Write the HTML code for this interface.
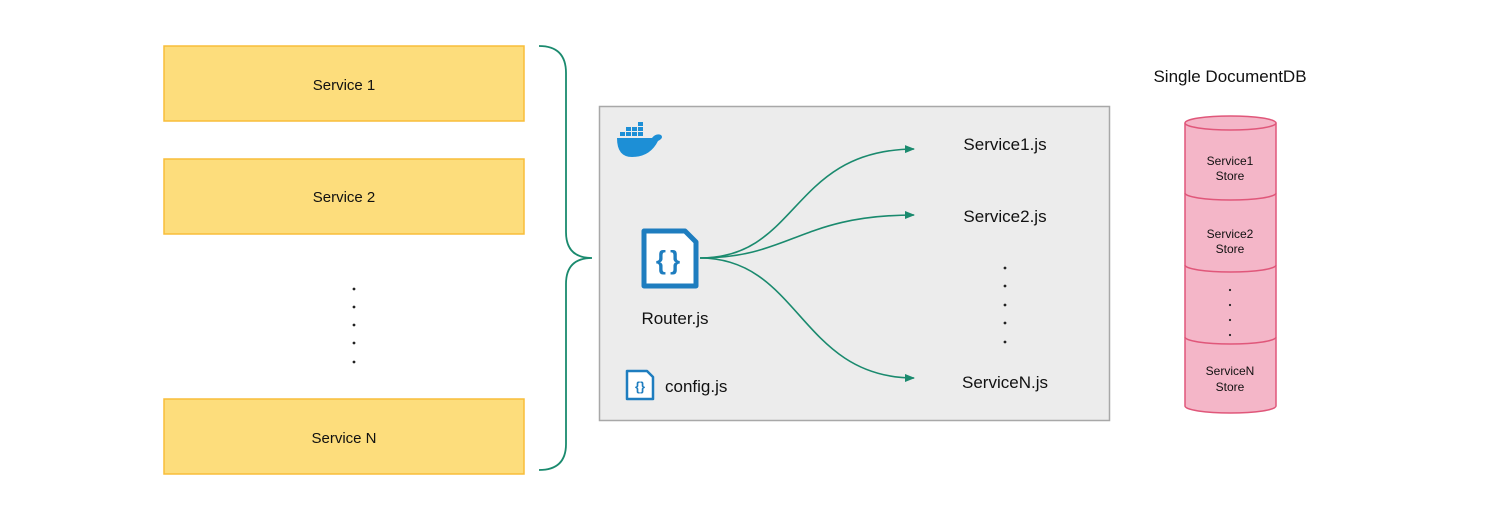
<!DOCTYPE html>
<html><head><meta charset="utf-8"><style>
html,body{margin:0;padding:0;background:#fff}
svg{display:block}
text{font-family:"Liberation Sans",sans-serif;fill:#111}
</style></head><body>
<svg width="1500" height="523" viewBox="0 0 1500 523" xmlns="http://www.w3.org/2000/svg">
<defs><marker id="ah" markerWidth="10" markerHeight="8" refX="9" refY="4" orient="auto" markerUnits="userSpaceOnUse"><path d="M0,0 L10,4 L0,8 z" fill="#1a8a6e"/></marker></defs>
<g fill="#fddd7c" stroke="#f8bd3a" stroke-width="1.5">
<rect x="164" y="46" width="360" height="75"/>
<rect x="164" y="159" width="360" height="75"/>
<rect x="164" y="399" width="360" height="75"/>
</g>
<g font-size="15" text-anchor="middle">
<text x="344" y="90">Service 1</text>
<text x="344" y="202">Service 2</text>
<text x="344" y="443">Service N</text>
</g>
<g fill="#222"><circle cx="354" cy="289" r="1.4"/><circle cx="354" cy="307" r="1.4"/><circle cx="354" cy="325" r="1.4"/><circle cx="354" cy="343" r="1.4"/><circle cx="354" cy="362" r="1.4"/></g>
<path d="M539,46 Q566,46 566,73 L566,232 Q566,258 592,258 Q566,258 566,284 L566,444 Q566,470 539,470" fill="none" stroke="#1a8a6e" stroke-width="1.8"/>
<rect x="599.5" y="106.5" width="510" height="314" fill="#ececec" stroke="#a8a8a8" stroke-width="1.5"/>
<g fill="#1d8fd6">
<rect x="620" y="132" width="5" height="4"/><rect x="626" y="132" width="5" height="4"/><rect x="632" y="132" width="5" height="4"/><rect x="638" y="132" width="5" height="4"/>
<rect x="626" y="127" width="5" height="4"/><rect x="632" y="127" width="5" height="4"/><rect x="638" y="127" width="5" height="4"/>
<rect x="638" y="122" width="5" height="4"/>
<path d="M617,138 L652,138 Q656,133 661,135 Q664,138 658,141 Q650,157 632,157 Q617,157 617,138 z"/>
</g>
<g>
<path d="M644,231 L685,231 L696,242 L696,286 L644,286 z" fill="#fff" stroke="#1e7dbf" stroke-width="5" stroke-linejoin="round"/>
<text x="670" y="269" font-size="26" font-weight="bold" text-anchor="middle" letter-spacing="4" style="fill:#1e7dbf">{}</text>
</g>
<text x="675" y="324" font-size="17" text-anchor="middle">Router.js</text>
<path d="M627,371 L647,371 L653,377 L653,399 L627,399 z" fill="#fff" stroke="#1e7dbf" stroke-width="2.5" stroke-linejoin="round"/>
<text x="640" y="391" font-size="13" font-weight="bold" text-anchor="middle" style="fill:#1e7dbf">{}</text>
<text x="665" y="392" font-size="17">config.js</text>
<g fill="none" stroke="#1a8a6e" stroke-width="1.6" marker-end="url(#ah)">
<path d="M700,258 C800,258 790,150 914,149"/>
<path d="M700,258 C790,258 800,215 914,215"/>
<path d="M700,258 C800,258 800,378 914,378"/>
</g>
<g font-size="17" text-anchor="middle">
<text x="1005" y="150">Service1.js</text>
<text x="1005" y="222">Service2.js</text>
<text x="1005" y="388">ServiceN.js</text>
</g>
<g fill="#222"><circle cx="1005" cy="268" r="1.4"/><circle cx="1005" cy="286" r="1.4"/><circle cx="1005" cy="305" r="1.4"/><circle cx="1005" cy="323" r="1.4"/><circle cx="1005" cy="342" r="1.4"/></g>
<text x="1230" y="82" font-size="17" text-anchor="middle">Single DocumentDB</text>
<g stroke="#e0577a" stroke-width="1.5" fill="#f4b6c8">
<path d="M1185,123 L1185,406 A45.5,7 0 0 0 1276,406 L1276,123"/>
<ellipse cx="1230.5" cy="123" rx="45.5" ry="7"/>
<path d="M1185,193 A45.5,7 0 0 0 1276,193" fill="none"/>
<path d="M1185,265 A45.5,7 0 0 0 1276,265" fill="none"/>
<path d="M1185,337 A45.5,7 0 0 0 1276,337" fill="none"/>
</g>
<g font-size="12" text-anchor="middle">
<text x="1230" y="165">Service1</text><text x="1230" y="180">Store</text>
<text x="1230" y="238">Service2</text><text x="1230" y="253">Store</text>
<text x="1230" y="375">ServiceN</text><text x="1230" y="391">Store</text>
</g>
<g fill="#222"><circle cx="1230" cy="290" r="1.1"/><circle cx="1230" cy="305" r="1.1"/><circle cx="1230" cy="320" r="1.1"/><circle cx="1230" cy="335" r="1.1"/></g>
</svg>
</body></html>
